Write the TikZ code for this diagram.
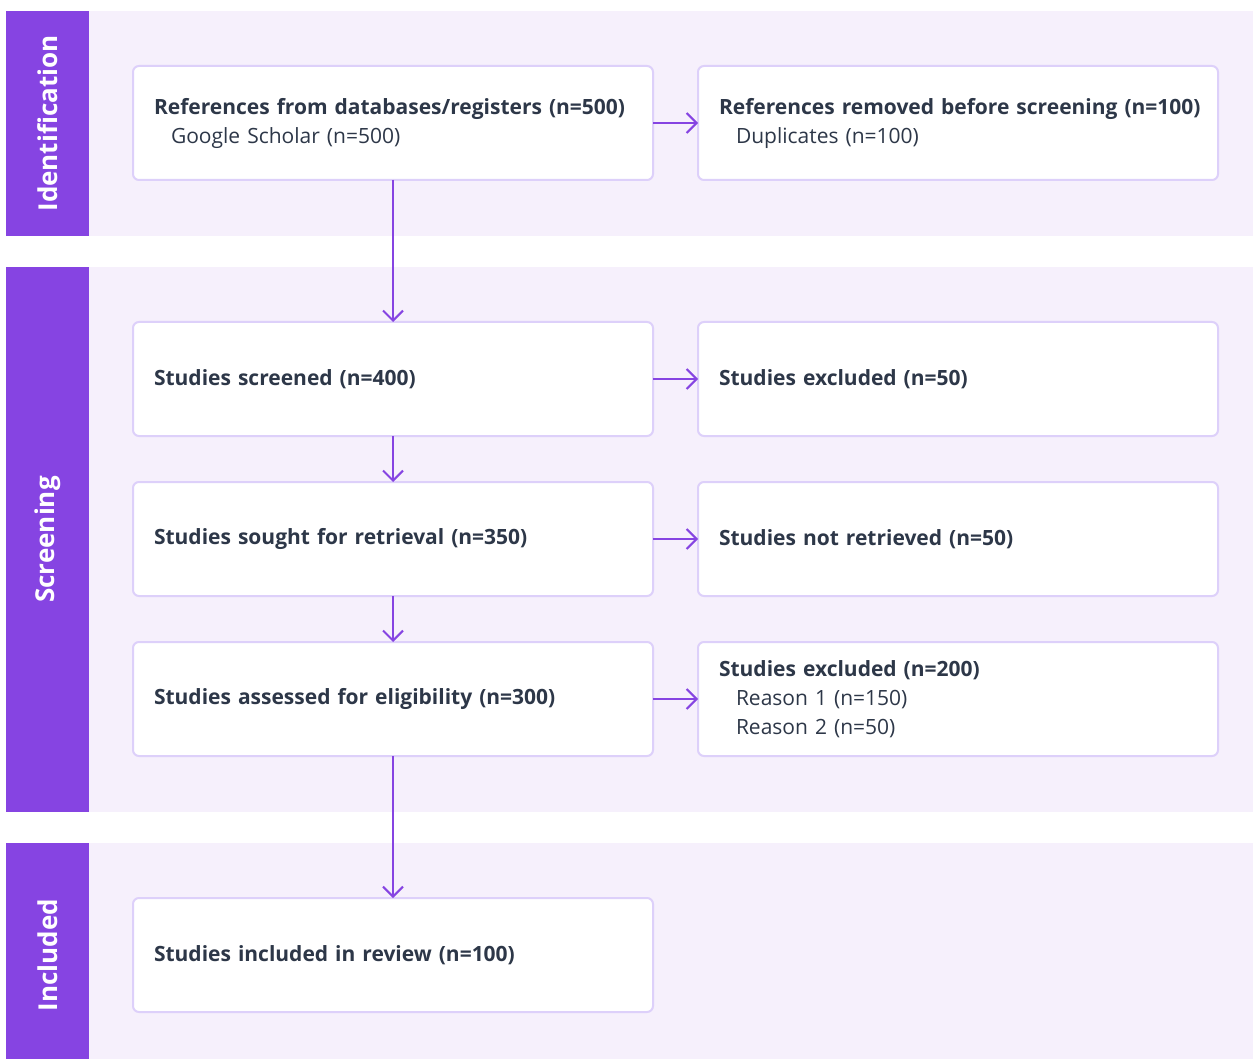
\documentclass[tikz,border=0pt]{standalone}
\usepackage{fontspec}
\setmainfont{Open Sans}
\usetikzlibrary{arrows.meta, positioning}
\definecolor{accent}{RGB}{134,68,226}
\definecolor{band}{RGB}{246,240,252}
\definecolor{edge}{RGB}{221,208,250}
\definecolor{ink}{RGB}{45,55,72}

\begin{document}
\begin{tikzpicture}[
    x=0.5pt, y=-0.5pt,
    node distance=23pt,
    box/.style={rectangle, rounded corners=3pt, draw=edge, line width=1pt, fill=white, outer sep=0pt, minimum width=260pt, minimum height=57pt, text width=239pt, inner xsep=10.5pt, align=left, font=\fontsize{10.5}{14.5}\selectfont, text=ink},
    stage/.style={rotate=90, text=white, font=\fontsize{13}{15}\selectfont\bfseries},
    arr/.style={-{Straight Barb[length=5pt, width=10pt]}, line width=1pt, accent},
]
\useasboundingbox (0,0) rectangle (1253,1059);

% phase bands
\fill[band] (6,11) rectangle (1253,236);
\fill[band] (6,267) rectangle (1253,812);
\fill[band] (6,843) rectangle (1253,1059);
\fill[accent] (6,11) rectangle (89,236);
\fill[accent] (6,267) rectangle (89,812);
\fill[accent] (6,843) rectangle (89,1059);
\node[stage] (idlab) at (47.5,123.5) {Identification};
\node[stage] (scrlab) at (47.5,539.5) {Screening};
\node[stage] (inclab) at (47.5,955) {Included};

% boxes
\node[box] (refs) at (393,123) {\mbox{\textbf{References from databases/registers (n=500)}}\\\hspace*{8.5pt}Google Scholar (n=500)};
\node[box, right=22.5pt of refs] (removed) {\mbox{\textbf{References removed before screening (n=100)}}\\\hspace*{8.5pt}Duplicates (n=100)};
\node[box, below=71pt of refs] (screened) {\textbf{Studies screened (n=400)}};
\node[box, right=22.5pt of screened] (excl) {\textbf{Studies excluded (n=50)}};
\node[box, below=of screened] (sought) {\textbf{Studies sought for retrieval (n=350)}};
\node[box, right=22.5pt of sought] (notret) {\textbf{Studies not retrieved (n=50)}};
\node[box, below=of sought] (assessed) {\textbf{Studies assessed for eligibility (n=300)}};
\node[box, right=22.5pt of assessed] (reasons) {\textbf{Studies excluded (n=200)}\\\hspace*{8.5pt}Reason 1 (n=150)\\\hspace*{8.5pt}Reason 2 (n=50)};
\node[box, below=71pt of assessed] (included) {\textbf{Studies included in review (n=100)}};

% connectors
\draw[arr] (refs) -- (removed);
\draw[arr] (refs) -- (screened);
\draw[arr] (screened) -- (excl);
\draw[arr] (screened) -- (sought);
\draw[arr] (sought) -- (notret);
\draw[arr] (sought) -- (assessed);
\draw[arr] (assessed) -- (reasons);
\draw[arr] (assessed) -- (included);

\end{tikzpicture}
\end{document}
